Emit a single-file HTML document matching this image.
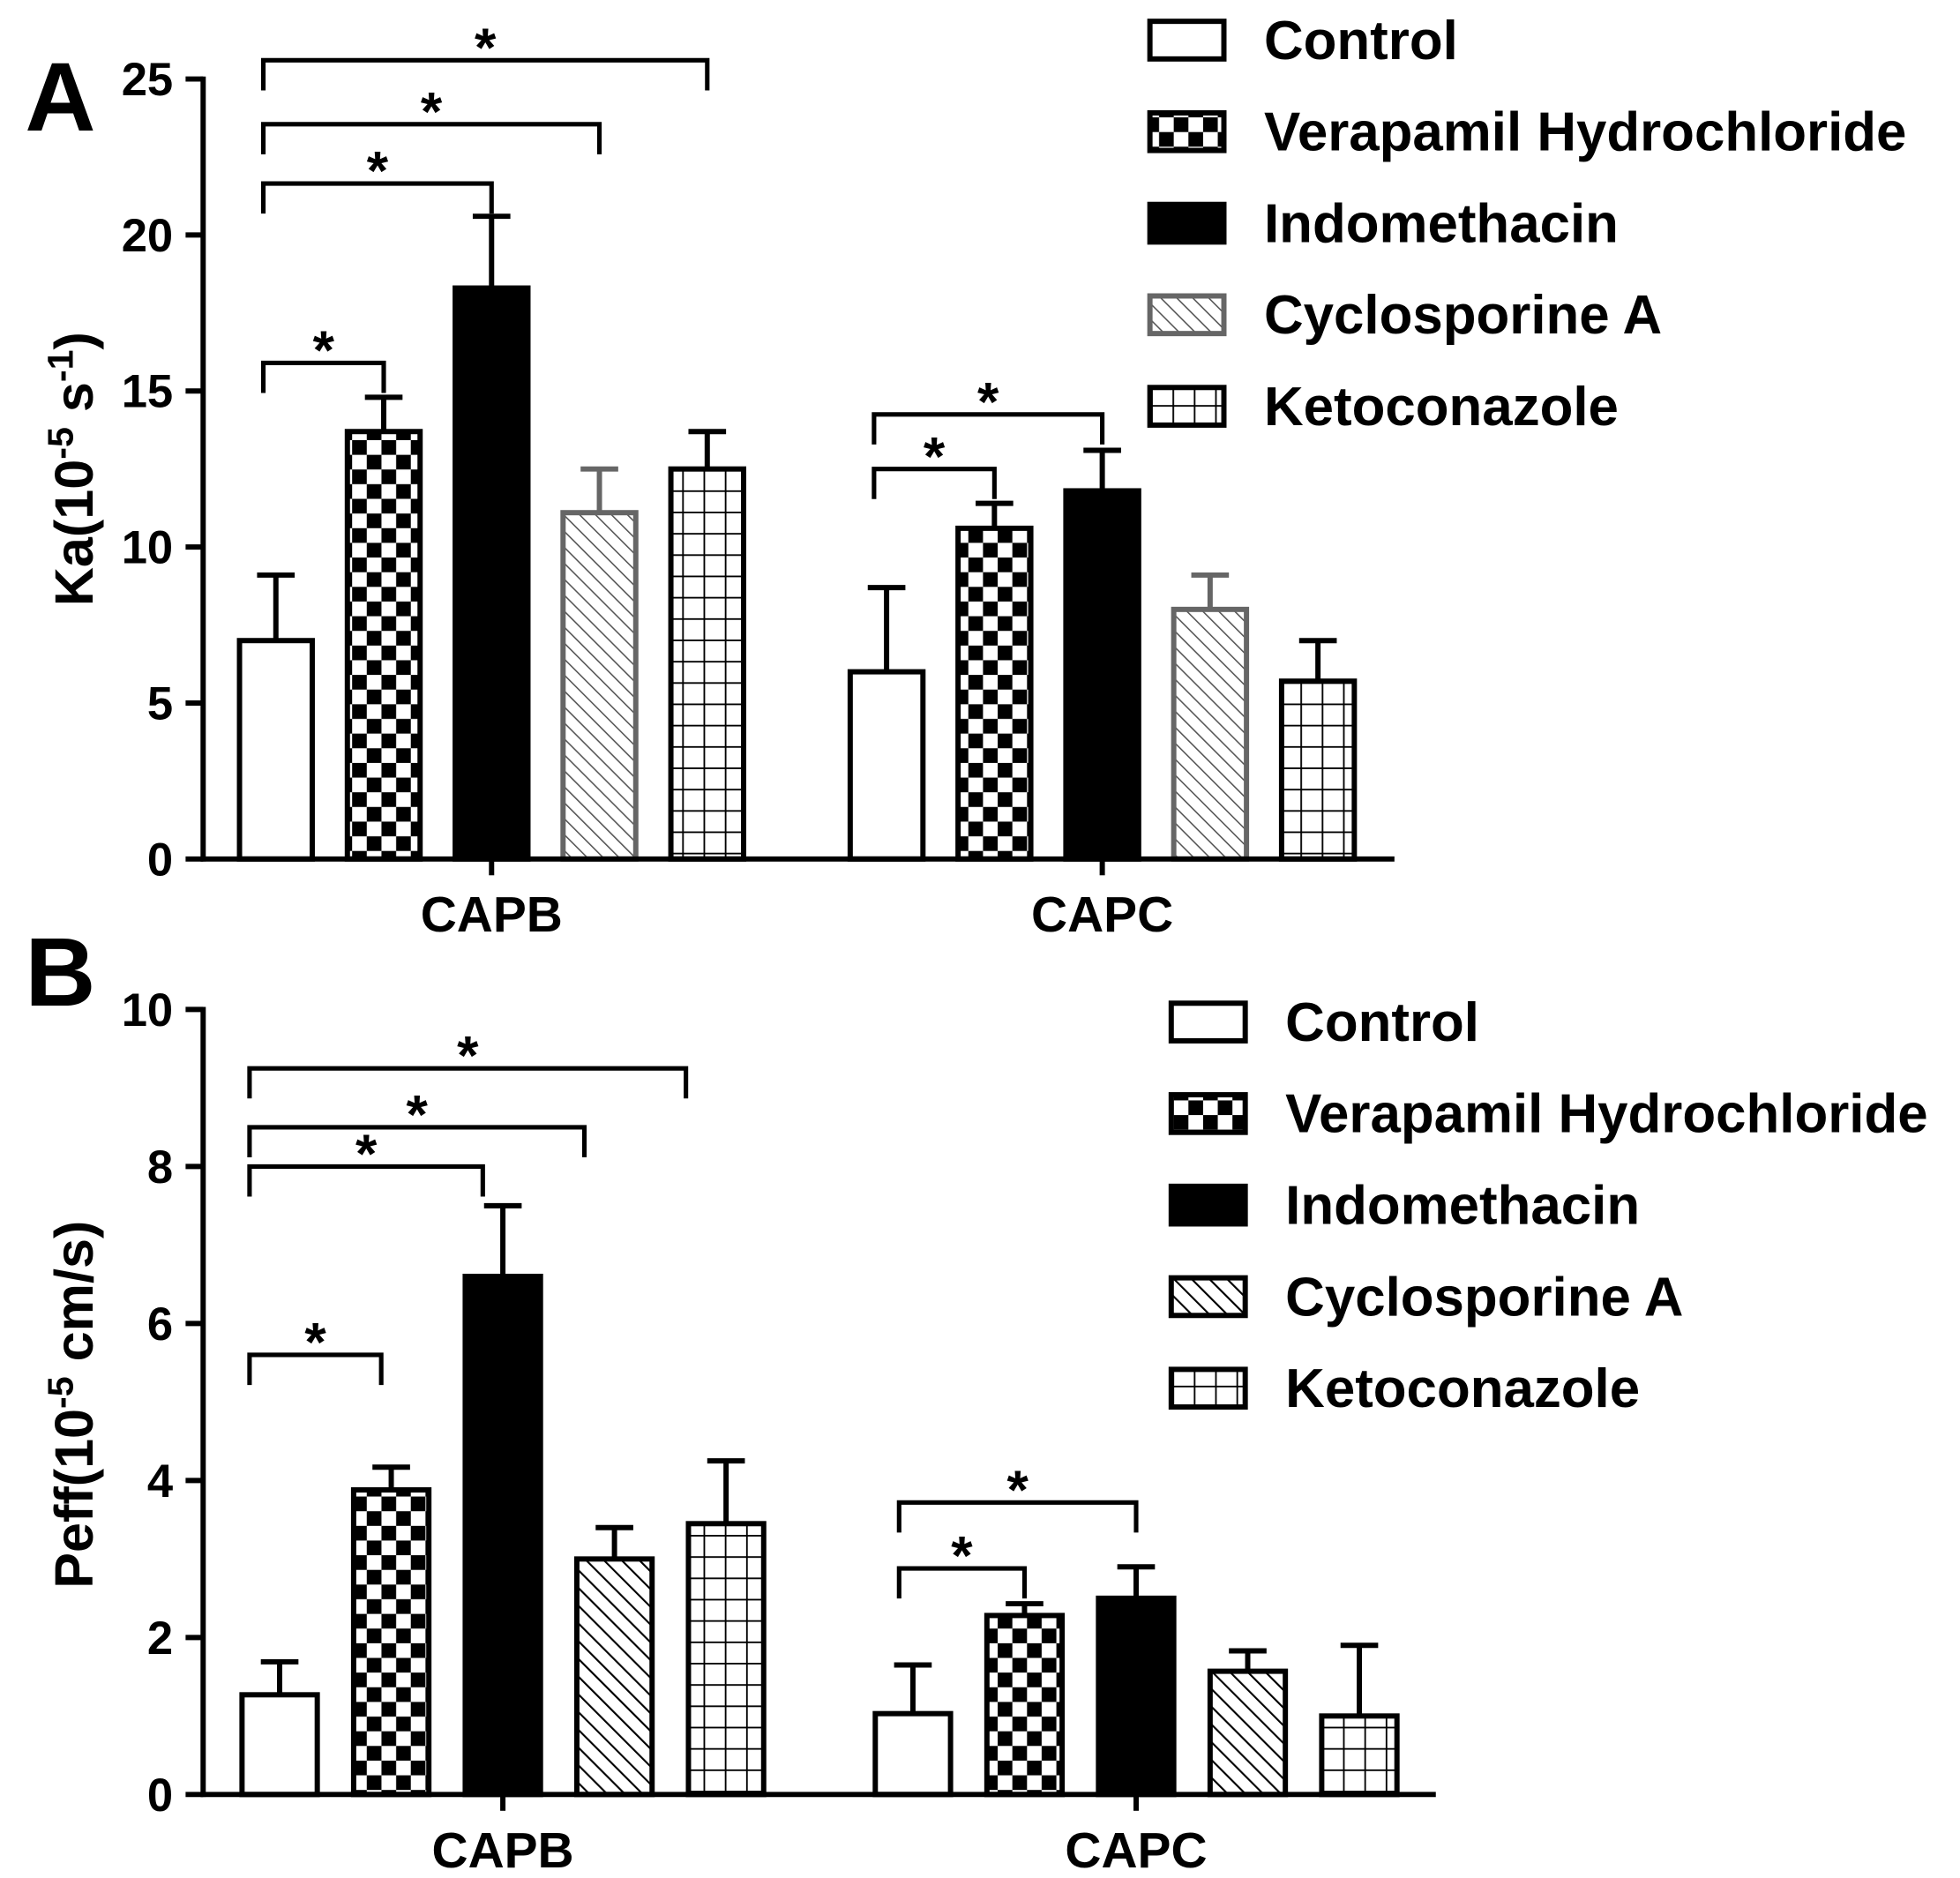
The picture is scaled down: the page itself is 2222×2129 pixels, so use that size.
<!DOCTYPE html>
<html><head><meta charset="utf-8">
<style>
html,body{margin:0;padding:0;background:#fff;}
svg{display:block;}
text{font-family:"Liberation Sans",Arial,sans-serif;font-weight:bold;fill:#000;}
</style></head>
<body>
<svg id="chart" width="2222" height="2129" viewBox="0 0 1563 1497.6" preserveAspectRatio="none" xmlns="http://www.w3.org/2000/svg">
<defs>
<pattern id="pChecker" patternUnits="userSpaceOnUse" width="23.4" height="23.4"><rect width="23.4" height="23.4" fill="#fff"/><rect width="11.7" height="11.7" fill="#000"/><rect x="11.7" y="11.7" width="11.7" height="11.7" fill="#000"/></pattern>
<pattern id="pHatch" patternUnits="userSpaceOnUse" width="9" height="9" patternTransform="rotate(-45)"><rect width="9" height="9" fill="#fff"/><line x1="0" y1="0" x2="0" y2="9" stroke="#555" stroke-width="2.2"/></pattern>
<pattern id="pHatchB" patternUnits="userSpaceOnUse" width="10" height="10" patternTransform="rotate(-45)"><rect width="10" height="10" fill="#fff"/><line x1="0" y1="0" x2="0" y2="10" stroke="#000" stroke-width="3"/></pattern>
<pattern id="pGrid" patternUnits="userSpaceOnUse" width="17" height="17"><rect width="17" height="17" fill="#fff"/><path d="M0 0H17M0 0V17" stroke="#000" stroke-width="2.6"/></pattern>
</defs>
<g id="root"></g>
</svg>
<script>
const series = ["Control","Verapamil Hydrochloride","Indomethacin","Cyclosporine A","Ketoconazole"];
const categories = ["CAPB","CAPC"];
const meanA_CAPB = [7.0,13.7,18.3,11.1,12.5];
const errA_CAPB  = [2.1,1.1,2.3,1.4,1.2];
const meanA_CAPC = [6.0,10.6,11.8,8.0,5.7];
const errA_CAPC  = [2.7,0.8,1.3,1.1,1.3];
const meanB_CAPB = [1.27,3.88,6.6,3.0,3.45];
const errB_CAPB  = [0.42,0.29,0.9,0.4,0.8];
const meanB_CAPC = [1.03,2.28,2.5,1.57,1.0];
const errB_CAPC  = [0.62,0.15,0.4,0.26,0.9];
const ticksA = [0,5,10,15,20,25];
const ticksB = [0,2,4,6,8,10];
// significance brackets: [category, fromSeries, toSeries, level]
const sigA = [[0,0,4,25.6],[0,0,3,23.55],[0,0,2,21.65],[0,0,1,15.9],[1,0,2,14.25],[1,0,1,12.5]];
const sigB = [[0,0,4,9.25],[0,0,3,8.5],[0,0,2,8.0],[0,0,1,5.6],[1,0,2,3.72],[1,0,1,2.88]];

const NS="http://www.w3.org/2000/svg";
const root=document.getElementById('root');
function el(tag,attrs,parent,txt){const e=document.createElementNS(NS,tag);for(const k in attrs)e.setAttribute(k,attrs[k]);if(txt!==undefined)e.textContent=txt;(parent||root).appendChild(e);return e;}

function panel(cfg){
  const g=el('g',{});
  
  
  const y=v=>cfg.y0-(v-cfg.min)/(cfg.max-cfg.min)*(cfg.y0-cfg.yTop);
  const x=(c,s)=>cfg.catStart[c]+s*cfg.step;
  const fills=['#fff','url(#pChecker)','#000',cfg.hatch,'url(#pGrid)'];
  const strokes=['#000','#000','#000',cfg.hatchStroke,'#000'];
  [cfg.m0,cfg.m1].forEach((means,c)=>{
    const errs=c===0?cfg.e0:cfg.e1;
    means.forEach((v,s)=>{
      const cx=x(c,s), w=cfg.bw;
      const eb=el('line',{x1:cx,x2:cx,y1:y(v),y2:y(v+errs[s]),stroke:strokes[s],'stroke-width':4.2},g);
      
      
      const cap=el('line',{x1:cx-15,x2:cx+15,y1:y(v+errs[s]),y2:y(v+errs[s]),stroke:strokes[s],'stroke-width':4.2},g);
      
      
      const r=el('rect',{x:cx-w/2,y:y(v),width:w,height:y(cfg.min)-y(v),fill:fills[s],stroke:strokes[s],'stroke-width':4.2},g);
      
      
    });
  });
  const ya=el('line',{x1:cfg.ax,x2:cfg.ax,y1:cfg.yTop-2,y2:cfg.y0+2,stroke:'#000','stroke-width':4.2},g);
  
  
  const xa=el('line',{x1:cfg.ax-2,x2:cfg.xEnd,y1:cfg.y0,y2:cfg.y0,stroke:'#000','stroke-width':4.2},g);
  
  
  cfg.ticks.forEach(t=>{
    el('line',{x1:cfg.ax-14,x2:cfg.ax,y1:y(t),y2:y(t),stroke:'#000','stroke-width':4.2},g);
    const tl=el('text',{x:cfg.ax-24,y:y(t)+13,'text-anchor':'end','font-size':37},g,String(t));
    
    
  });
  categories.forEach((cn,c)=>{
    const cx=x(c,2);
    el('line',{x1:cx,x2:cx,y1:cfg.y0,y2:cfg.y0+13,stroke:'#000','stroke-width':4.2},g);
    const cl=el('text',{x:cx,y:cfg.y0+58,'text-anchor':'middle','font-size':40},g,cn);
    
    
  });
  cfg.sig.forEach(b=>{
    const x1=x(b[0],b[1])-cfg.bOff[b[0]], x2=x(b[0],b[2])-cfg.bShrink[b[0]]*b[2], yy=y(b[3]);
    const p=el('path',{d:`M${x1} ${yy+24}V${yy}H${x2}V${yy+24}`,fill:'none',stroke:'#000','stroke-width':3.6},g);
    
    
    const st=el('text',{x:(x1+x2)/2,y:yy+5,'text-anchor':'middle','font-size':44},g,'*');
    
    
  });
  const yt=el('text',{x:0,y:0,'text-anchor':'middle','font-size':43,transform:`translate(${cfg.titleX},${cfg.titleY}) rotate(-90)`},g);
  
  
  yt.innerHTML=cfg.title;
  const pl=el('text',{x:20,y:cfg.letterY,'font-size':78},g,cfg.letter);
  
  
  const lfills=['#fff','url(#pChecker)','#000',cfg.legHatch,'url(#pGrid)'];
  series.forEach((sn,i)=>{
    const ly=cfg.legY+i*73;
    const lg=el('g',{},g);
    
    
    el('rect',{x:cfg.legX,y:ly-15,width:59,height:30,fill:lfills[i],stroke:i===3?cfg.legHatchStroke:'#000','stroke-width':4.2},lg);
    el('text',{x:cfg.legX+91,y:ly+15,'font-size':43.5},lg,sn);
  });
}

panel({name:'panel-a',letter:'A',letterY:104,min:0,max:25,y0:685,yTop:63,ax:162,xEnd:1112,
  catStart:[220,707],step:86,bw:58,m0:meanA_CAPB,e0:errA_CAPB,m1:meanA_CAPC,e1:errA_CAPC,
  ticks:ticksA,sig:sigA,bOff:[10,10],bShrink:[0,0],hatch:'url(#pHatch)',hatchStroke:'#666',legHatch:'url(#pHatch)',legHatchStroke:'#666',
  title:'Ka(10<tspan dy="-16" font-size="29">-5</tspan><tspan dy="16"> s</tspan><tspan dy="-16" font-size="29">-1</tspan><tspan dy="16">)</tspan>',
  titleX:74,titleY:374,legX:917,legY:32});
panel({name:'panel-b',letter:'B',letterY:802,min:0,max:10,y0:1431,yTop:805,ax:162,xEnd:1145,
  catStart:[223,728],step:89,bw:60,m0:meanB_CAPB,e0:errB_CAPB,m1:meanB_CAPC,e1:errB_CAPC,
  ticks:ticksB,sig:sigB,bOff:[24,11],bShrink:[8,0],hatch:'url(#pHatchB)',hatchStroke:'#000',legHatch:'url(#pHatchB)',legHatchStroke:'#000',
  title:'Peff(10<tspan dy="-16" font-size="29">-5</tspan><tspan dy="16"> cm/s)</tspan>',
  titleX:74,titleY:1120,legX:934,legY:815});
</script>
</body></html>
